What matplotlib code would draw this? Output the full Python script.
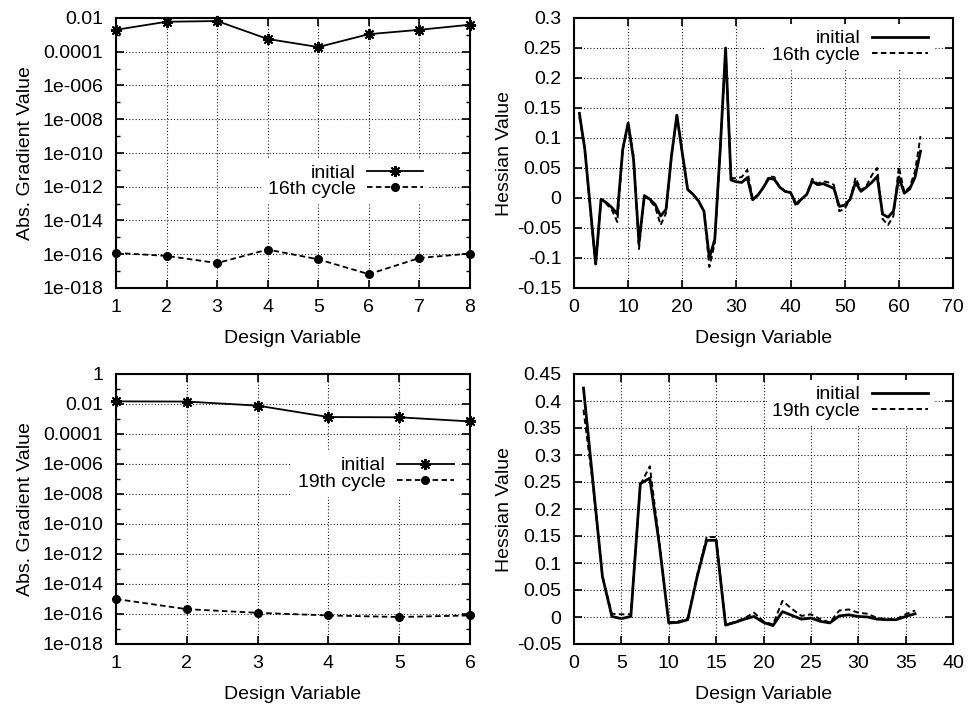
import matplotlib
matplotlib.use("Agg")
import matplotlib.pyplot as plt
from matplotlib.ticker import FixedLocator, FixedFormatter, MultipleLocator, FormatStrFormatter

plt.rcParams['font.family'] = ['Liberation Sans', 'DejaVu Sans']
plt.rcParams['axes.unicode_minus'] = False
plt.rcParams['lines.scale_dashes'] = False

# ---- gradient data, 8 design variables (16th cycle run) ----
grad8_vars = [1, 2, 3, 4, 5, 6, 7, 8]
grad8_initial = [2.0e-3, 6.0e-3, 6.6e-3, 5.7e-4, 1.9e-4, 1.1e-3, 2.0e-3, 4.0e-3]
grad8_final = [1.2e-16, 8.0e-17, 3.0e-17, 1.9e-16, 5.0e-17, 6.6e-18, 6.0e-17, 1.1e-16]

# ---- gradient data, 6 design variables (19th cycle run) ----
grad6_vars = [1, 2, 3, 4, 5, 6]
grad6_initial = [1.5e-2, 1.45e-2, 7.8e-3, 1.35e-3, 1.3e-3, 6.9e-4]
grad6_final = [1.0e-15, 2.1e-16, 1.2e-16, 8.0e-17, 6.3e-17, 8.0e-17]

# ---- Hessian diagonal, 64 design variables ----
hess64_vars = list(range(1, 65))
hess64_initial = [
    0.141, 0.081, -0.015, -0.110, -0.002, -0.008, -0.016, -0.027, 0.081, 0.125,
    0.064, -0.075, 0.004, -0.002, -0.011, -0.030, -0.019, 0.070, 0.138, 0.075,
    0.014, 0.006, -0.005, -0.022, -0.100, -0.069, 0.080, 0.250, 0.030, 0.027,
    0.026, 0.034, -0.003, 0.005, 0.018, 0.033, 0.031, 0.018, 0.011, 0.009,
    -0.010, -0.002, 0.006, 0.028, 0.022, 0.024, 0.020, 0.016, -0.014, -0.012,
    -0.002, 0.026, 0.011, 0.018, 0.026, 0.036, -0.027, -0.032, -0.022, 0.035,
    0.008, 0.015, 0.035, 0.078]
hess64_final = [
    0.135, 0.081, -0.020, -0.113, -0.002, -0.010, -0.020, -0.040, 0.081, 0.125,
    0.070, -0.085, 0.004, -0.004, -0.015, -0.045, -0.025, 0.070, 0.138, 0.075,
    0.014, 0.006, -0.005, -0.022, -0.115, -0.075, 0.080, 0.245, 0.033, 0.033,
    0.035, 0.047, -0.001, 0.005, 0.018, 0.036, 0.035, 0.018, 0.011, 0.009,
    -0.014, -0.002, 0.006, 0.032, 0.024, 0.028, 0.026, 0.022, -0.022, -0.018,
    -0.002, 0.034, 0.013, 0.020, 0.038, 0.050, -0.035, -0.045, -0.030, 0.052,
    0.010, 0.018, 0.045, 0.103]

# ---- Hessian diagonal, 36 design variables ----
hess36_vars = list(range(1, 37))
hess36_initial = [
    0.424, 0.250, 0.075, 0.001, -0.003, 0.001, 0.247, 0.257, 0.135, -0.011,
    -0.010, -0.005, 0.075, 0.142, 0.142, -0.015, -0.010, -0.004, 0.001, -0.010,
    -0.016, 0.010, 0.003, -0.004, -0.002, -0.008, -0.011, 0.002, 0.004, 0.001,
    0.000, -0.004, -0.005, -0.005, 0.001, 0.006]
hess36_final = [
    0.384, 0.245, 0.075, 0.006, 0.005, 0.005, 0.245, 0.279, 0.140, -0.010,
    -0.008, -0.004, 0.078, 0.148, 0.148, -0.014, -0.009, -0.002, 0.008, -0.008,
    -0.014, 0.030, 0.015, 0.002, 0.005, -0.004, -0.010, 0.012, 0.014, 0.008,
    0.006, -0.002, -0.004, -0.004, 0.005, 0.012]

W, H = 968, 705
fig = plt.figure(figsize=(W / 100, H / 100), dpi=100)


def axes_px(x0, y0, x1, y1):
    return fig.add_axes([x0 / W, 1 - y1 / H, (x1 - x0) / W, (y1 - y0) / H])


ax_tl = axes_px(116, 18, 470, 288)
ax_tr = axes_px(574, 18, 953, 288)
ax_bl = axes_px(116, 374, 470, 644)
ax_br = axes_px(574, 374, 953, 644)

FS = 14
grid_style = dict(color='black', linewidth=0.8, linestyle=(0, (0.7, 1.6)))
dash = (4.0, 2.4)
star = (8, 2, 0)


def style_axes(ax):
    for s in ax.spines.values():
        s.set_linewidth(1.5)
    ax.tick_params(which='major', direction='in', length=6, width=1.2,
                   top=True, right=True, labelsize=FS)
    ax.tick_params(axis='y', which='major', pad=9)
    ax.tick_params(axis='x', which='major', pad=8)
    ax.tick_params(which='minor', direction='in', length=3, width=1.0,
                   top=True, right=True)
    ax.grid(True, which='major', **grid_style)
    ax.set_axisbelow(True)
    ax.set_xlabel('Design Variable', fontsize=FS, labelpad=10)


def log_axis(ax, top_exp):
    exps = list(range(-18, top_exp + 1, 2))
    labels = []
    for e in exps:
        if e == 0:
            labels.append('1')
        elif e >= -4:
            labels.append(('%.*f' % (-e, 10.0 ** e)))
        else:
            labels.append('1e-%03d' % (-e))
    ax.set_yscale('log')
    ax.yaxis.set_major_locator(FixedLocator([10.0 ** e for e in exps]))
    ax.yaxis.set_major_formatter(FixedFormatter(labels))
    ax.yaxis.set_minor_locator(FixedLocator([10.0 ** e for e in range(-17, top_exp, 2)]))
    ax.yaxis.set_minor_formatter(FixedFormatter([]))
    ax.set_ylim(1e-18, 10.0 ** top_exp)


def legend(ax, x, y):
    lg = ax.legend(loc='center right', bbox_to_anchor=(x, y), markerfirst=False,
                   frameon=True, fancybox=False, framealpha=1, edgecolor='none',
                   facecolor='white', fontsize=FS, handlelength=2.9,
                   handletextpad=0.6, labelspacing=-0.05, borderpad=0.3,
                   borderaxespad=0, numpoints=1)
    lg.set_zorder(5)


# top-left: gradients, 8 variables
ax = ax_tl
ax.plot(grad8_vars, grad8_initial, color='black', lw=1.3, marker=star,
        ms=8, mew=1.4, label='initial', clip_on=False, zorder=3)
ax.plot(grad8_vars, grad8_final, color='black', lw=1.3, dashes=dash, marker='o',
        ms=5.5, label='16th cycle', clip_on=False, zorder=3)
log_axis(ax, -2)
ax.set_xlim(1, 8)
ax.xaxis.set_major_locator(MultipleLocator(1))
style_axes(ax)
ax.set_ylabel('Abs. Gradient Value', fontsize=FS, labelpad=6)
legend(ax, 0.885, 0.396)

# bottom-left: gradients, 6 variables
ax = ax_bl
ax.plot(grad6_vars, grad6_initial, color='black', lw=1.3, marker=star,
        ms=8, mew=1.4, label='initial', clip_on=False, zorder=3)
ax.plot(grad6_vars, grad6_final, color='black', lw=1.3, dashes=dash, marker='o',
        ms=5.5, label='19th cycle', clip_on=False, zorder=3)
log_axis(ax, 0)
ax.set_xlim(1, 6)
ax.xaxis.set_major_locator(MultipleLocator(1))
style_axes(ax)
ax.set_ylabel('Abs. Gradient Value', fontsize=FS, labelpad=6)
legend(ax, 0.97, 0.63)

# top-right: Hessian, 64 variables
ax = ax_tr
ax.plot(hess64_vars, hess64_initial, color='black', lw=2.0, label='initial', zorder=3)
ax.plot(hess64_vars, hess64_final, color='black', lw=1.4, dashes=dash,
        label='16th cycle', zorder=3)
ax.set_xlim(0, 70)
ax.set_ylim(-0.15, 0.3)
ax.xaxis.set_major_locator(MultipleLocator(10))
ax.yaxis.set_major_locator(MultipleLocator(0.05))
ax.yaxis.set_major_formatter(FormatStrFormatter('%g'))
style_axes(ax)
ax.set_ylabel('Hessian Value', fontsize=FS, labelpad=3)
legend(ax, 0.95, 0.893)

# bottom-right: Hessian, 36 variables
ax = ax_br
ax.plot(hess36_vars, hess36_initial, color='black', lw=2.0, label='initial', zorder=3)
ax.plot(hess36_vars, hess36_final, color='black', lw=1.4, dashes=dash,
        label='19th cycle', zorder=3)
ax.set_xlim(0, 40)
ax.set_ylim(-0.05, 0.45)
ax.xaxis.set_major_locator(MultipleLocator(5))
ax.yaxis.set_major_locator(MultipleLocator(0.05))
ax.yaxis.set_major_formatter(FormatStrFormatter('%g'))
style_axes(ax)
ax.set_ylabel('Hessian Value', fontsize=FS, labelpad=3)
legend(ax, 0.95, 0.893)

fig.savefig('out.png', dpi=100, facecolor='white')
